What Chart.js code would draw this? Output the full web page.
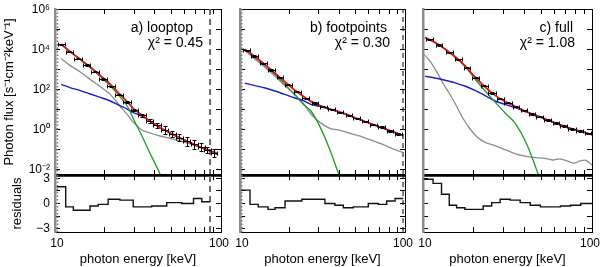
<!DOCTYPE html>
<html>
<head>
<meta charset="utf-8">
<title>Photon spectra</title>
<script src="https://cdn.jsdelivr.net/npm/chart.js@4.4.1/dist/chart.umd.min.js"></script>
<style>
  html, body { margin: 0; padding: 0; background: #fff; }
  #figure { position: relative; width: 600px; height: 267px; overflow: hidden; }
  #figure canvas { position: absolute; }
</style>
</head>
<body>
<div id="figure"></div>
<script>
// ============================================================
//  Data
// ============================================================

// --- axes ---
const energyTicks = [10, 20, 30, 40, 50, 60, 70, 80, 90, 100];
const energyTickLabels = ['10', '', '', '', '', '', '', '', '', '100'];
const fluxTicks = [1e-2, 1e-1, 1, 1e1, 1e2, 1e3, 1e4, 1e5, 1e6];
const fluxTickLabels = ['10⁻²', '', '10⁰', '', '10²', '', '10⁴', '', '10⁶'];
const residTicks = [-3, -1.5, 0, 1.5, 3];
const residTickLabels = ['−3', '', '0', '', '3'];

// --- a) looptop ---
const loopModelE = [10.9, 12.3, 14.2, 16.3, 18.7, 21.5, 24.6, 27.2, 29.9, 33.4, 37.3, 42.9, 49.3, 56.6, 65.0, 74.7, 85.8, 95.9];
const loopTotal = [1.95e4, 8.51e3, 3.39e3, 1.41e3, 537, 195, 60.3, 26.3, 11.0, 5.50, 2.82, 1.33, 0.708, 0.398, 0.237, 0.141, 0.0891, 0.0596];
const loopThermal = [1.91e4, 8.22e3, 3.31e3, 1.32e3, 479, 162, 46.8, 15.8, 3.16, 0.501, 0.0708, 0.00631, 0.000398];
const loopNonthermal = [191, 132, 93.3, 63.1, 42.7, 28.2, 16.6, 11.2, 7.24, 5.01, 2.75, 1.32, 0.708, 0.398, 0.237, 0.141, 0.0891, 0.0596];
const loopBackground = [3.80e3, 1.70e3, 794, 339, 148, 60.3, 15.8, 6.03, 2.24, 1.00, 0.708, 0.501, 0.380, 0.282, 0.200, 0.138, 0.0955, 0.0708];
const loopE = [10.9, 12.2, 13.8, 15.5, 17.4, 19.5, 21.8, 24.3, 27.2, 30.1, 33.4, 37.1, 41.2, 45.7, 50.7, 56.2, 62.4, 68.8, 75.8, 82.9, 90.8];
const loopELo = [10.4, 11.6, 13.1, 14.7, 16.5, 18.5, 20.7, 23.1, 25.8, 28.7, 31.8, 35.3, 39.2, 43.5, 48.3, 53.5, 59.4, 65.6, 72.3, 79.3, 86.9];
const loopEHi = [11.5, 12.9, 14.5, 16.3, 18.3, 20.5, 22.9, 25.6, 28.6, 31.6, 35.1, 39.0, 43.3, 48.0, 53.2, 59.0, 65.5, 72.2, 79.6, 86.8, 95.0];
const loopFlux = [1.91e4, 8.32e3, 3.72e3, 1.78e3, 813, 355, 155, 58.9, 24.0, 10.2, 5.50, 2.95, 1.70, 1.00, 0.646, 0.407, 0.269, 0.191, 0.135, 0.100, 0.0708];
const loopErrDex = [0.03, 0.03, 0.03, 0.03, 0.03, 0.03, 0.03, 0.04, 0.05, 0.06, 0.08, 0.10, 0.12, 0.20, 0.15, 0.17, 0.24, 0.22, 0.20, 0.17, 0.20];
const loopResidEdges = [10.24, 11.6, 12.9, 16.25, 18.2, 20.9, 24.6, 29.6, 38.2, 47.1, 58.0, 68.3, 76.6, 86.1];
const loopResid = [2.0, -0.4, -0.8, -0.3, -0.1, 0.5, 0.4, -0.4, -0.3, 0.1, 0.0, 0.6, 0.2];
const loopRangeLo = 10.35;
const loopRangeHi = 85.9;

// --- b) footpoints ---
const footModelE = [10.7, 12.3, 14.2, 16.3, 18.7, 21.5, 24.1, 26.9, 30.5, 35.1, 40.4, 47.7, 57.2, 70.6, 87.0, 97.3];
const footTotal = [1.08e4, 4.73e3, 1.82e3, 684, 257, 96.6, 50.1, 26.9, 16.6, 11.2, 7.76, 4.73, 2.66, 1.41, 0.750, 0.531];
const footThermal = [1.05e4, 4.37e3, 1.66e3, 589, 191, 56.2, 20.0, 8.91, 1.48, 0.100, 0.00398];
const footNonthermal = [219, 166, 126, 89.1, 60.3, 39.8, 30.2, 19.1, 15.1, 11.0, 7.76, 4.68, 2.63, 1.41, 0.750, 0.531];
const footBackground = [9.33e3, 3.55e3, 1.32e3, 479, 166, 60.3, 22.4, 6.31, 2.40, 1.20, 0.955, 0.646, 0.407, 0.214, 0.105, 0.0741];
const footE = [11.0, 12.2, 13.8, 15.4, 17.5, 19.6, 22.3, 25.1, 28.5, 32.0, 36.0, 40.4, 45.8, 51.0, 57.2, 64.3, 72.2, 81.1, 91.1];
const footELo = [10.5, 11.6, 13.2, 14.7, 16.7, 18.7, 21.2, 23.9, 27.2, 30.5, 34.3, 38.5, 43.6, 48.6, 54.6, 61.3, 68.8, 77.3, 86.8];
const footEHi = [11.5, 12.8, 14.5, 16.2, 18.3, 20.6, 23.3, 26.3, 29.9, 33.5, 37.7, 42.3, 48.0, 53.4, 60.0, 67.4, 75.7, 85.0, 95.5];
const footFlux = [9.77e3, 5.01e3, 2.19e3, 1.00e3, 427, 186, 81.3, 38.9, 22.4, 14.5, 10.7, 7.59, 5.37, 3.80, 2.69, 1.86, 1.35, 0.912, 0.661];
const footErrDex = [0.03, 0.03, 0.03, 0.03, 0.03, 0.03, 0.03, 0.03, 0.03, 0.03, 0.03, 0.03, 0.04, 0.04, 0.04, 0.04, 0.05, 0.05, 0.05];
const footResidEdges = [10.24, 11.5, 12.9, 14.8, 16.3, 18.75, 23.7, 32.7, 37.6, 42.3, 48.6, 59.9, 68.9, 77.5, 87.1, 97.6];
const footResid = [1.6, -0.1, -0.4, -0.7, -0.5, 0.3, 0.5, 0.0, -0.2, -0.5, -0.4, 0.0, -0.1, 0.3, 0.6];
const footRangeLo = 10.24;
const footRangeHi = 97.3;

// --- c) full ---
const fullModelE = [10.3, 11.8, 13.5, 15.5, 17.7, 20.3, 23.3, 26.7, 30.6, 35.0, 41.3, 49.2, 60.4, 74.1, 90.9, 98.7];
const fullTotal = [4.22e4, 2.38e4, 1.13e4, 4.57e3, 1.66e3, 447, 141, 53.7, 26.3, 15.5, 7.94, 4.52, 2.29, 1.22, 0.741, 0.603];
const fullThermal = [4.17e4, 2.34e4, 1.10e4, 4.37e3, 1.51e3, 355, 89.1, 25.1, 7.08, 2.24, 0.178, 0.00355];
const fullNonthermal = [490, 398, 309, 229, 158, 95.5, 52.5, 28.2, 19.1, 13.2, 7.76, 4.52, 2.29, 1.22, 0.741, 0.603];
const fullBackgroundE = [10.1, 10.7, 11.5, 12.3, 13.1, 14.5, 15.9, 17.2, 19.0, 20.9, 23.3, 26.7, 30.6, 35.0, 40.2, 46.0, 52.7, 58.8, 64.7, 71.1, 78.3, 84.9, 92.2, 99.8];
const fullBackground = [6.03e3, 3.80e3, 1.58e3, 603, 224, 56.2, 14.1, 3.98, 1.12, 0.447, 0.240, 0.166, 0.105, 0.0661, 0.0490, 0.0417, 0.0380, 0.0316, 0.0363, 0.0282, 0.0219, 0.0282, 0.0302, 0.0178];
const fullE = [10.9, 12.4, 14.3, 16.1, 18.2, 20.5, 23.0, 25.6, 28.6, 31.8, 35.5, 39.6, 44.2, 49.2, 54.9, 61.2, 68.3, 76.2, 84.9, 94.7];
const fullELo = [10.4, 11.9, 13.6, 15.4, 17.4, 19.5, 21.9, 24.4, 27.3, 30.3, 33.9, 37.8, 42.1, 46.9, 52.3, 58.4, 65.1, 72.6, 80.9, 90.3];
const fullEHi = [11.4, 13.0, 15.0, 16.9, 19.1, 21.5, 24.1, 26.9, 30.0, 33.4, 37.2, 41.5, 46.3, 51.6, 57.5, 64.2, 71.6, 79.9, 89.0, 99.3];
const fullFlux = [3.39e4, 1.78e4, 7.76e3, 3.39e3, 1.29e3, 417, 162, 70.8, 37.2, 22.9, 14.5, 9.55, 6.31, 4.57, 3.16, 2.19, 1.58, 1.12, 0.871, 0.676];
const fullErrDex = [0.03, 0.03, 0.03, 0.03, 0.03, 0.03, 0.03, 0.03, 0.03, 0.03, 0.03, 0.03, 0.03, 0.03, 0.04, 0.04, 0.04, 0.04, 0.04, 0.04];
const fullResidEdges = [10.1, 11.47, 12.87, 14.3, 15.8, 17.7, 22.7, 25.5, 28.6, 32.8, 37.6, 43.1, 49.5, 65.1, 74.7, 85.8, 100];
const fullResid = [2.9, 2.4, 1.1, -0.2, -0.5, -0.7, -0.3, 0.1, 0.5, 0.4, 0.1, -0.2, -0.4, -0.3, -0.2, 0.0];

// ============================================================
//  Styling / layout
// ============================================================

Chart.defaults.font.family = '"Liberation Sans", Arial, Helvetica, sans-serif';
Chart.defaults.font.size = 13;
Chart.defaults.color = '#000';

const TICK_FONT = { size: 12 };
const ENERGY_MIN = 10;
const ENERGY_MAX = 100;
const FLUX_MIN = 5.62e-3;
const FLUX_MAX = 1.122e6;
const RESID_MIN = -3.4;
const RESID_MAX = 3.4;

const COLORS = {
    total: '#e8141c',
    thermal: '#1e9a2a',
    nonthermal: '#1c1cc8',
    background: '#8c8c8c',
    data: '#000',
};

// canvases side by side, never overlapping: [left, width, padLeft, padRight]
const panels = [
    {
        label: 'a) looptop', chi: 'χ² = 0.45', textDx: [28, 18],
        modelE: loopModelE, total: loopTotal, thermal: loopThermal, nonthermal: loopNonthermal,
        backgroundE: loopModelE, background: loopBackground,
        e: loopE, eLo: loopELo, eHi: loopEHi, flux: loopFlux, errDex: loopErrDex,
        residEdges: loopResidEdges, resid: loopResid,
        guides: [
            { e: loopRangeLo, color: '#777', width: 1.5, dash: [1.5, 2] },
            { e: loopRangeHi, color: '#6a6a6a', width: 2, dash: [6, 4] },
        ],
        top: [0, 230, 0, 9],
        res: [0, 232, 0, 11],
        yWidth: 55,
        labels: true,
    },
    {
        label: 'b) footpoints', chi: 'χ² = 0.30', textDx: [18, 15],
        modelE: footModelE, total: footTotal, thermal: footThermal, nonthermal: footNonthermal,
        backgroundE: footModelE, background: footBackground,
        e: footE, eLo: footELo, eHi: footEHi, flux: footFlux, errDex: footErrDex,
        residEdges: footResidEdges, resid: footResid,
        guides: [
            { e: footRangeLo, color: '#777', width: 1.5, dash: [1.5, 2] },
            { e: footRangeHi, color: '#000', width: 1, dash: [5, 4] },
        ],
        top: [230, 183, 10, 8],
        res: [232, 184, 8, 11],
        yWidth: 0,
        labels: false,
    },
    {
        label: 'c) full', chi: 'χ² = 1.08', textDx: [19, 17],
        modelE: fullModelE, total: fullTotal, thermal: fullThermal, nonthermal: fullNonthermal,
        backgroundE: fullBackgroundE, background: fullBackground,
        e: fullE, eLo: fullELo, eHi: fullEHi, flux: fullFlux, errDex: fullErrDex,
        residEdges: fullResidEdges, resid: fullResid,
        guides: [],
        top: [413, 187, 10, 8],
        res: [416, 192, 7, 16],
        yWidth: 0,
        labels: false,
    },
];

// ============================================================
//  Helpers
// ============================================================

function pts(xs, ys) {
    return ys.map((y, i) => ({ x: xs[i], y: y }));
}

function addCanvas(left, top, width, height) {
    const c = document.createElement('canvas');
    c.width = width;
    c.height = height;
    c.style.left = left + 'px';
    c.style.top = top + 'px';
    c.style.width = width + 'px';
    c.style.height = height + 'px';
    document.getElementById('figure').appendChild(c);
    return c;
}

function fixedTicks(values) {
    return scale => { scale.ticks = values.map(v => ({ value: v })); };
}

function fixedSize(w, h) {
    return scale => {
        if (w !== null) scale.width = w;
        if (h !== null) scale.height = h;
        scale.paddingTop = scale.paddingBottom = scale.paddingLeft = scale.paddingRight = 0;
    };
}

// label looked up by tick value, so it does not depend on tick order
function labelFor(values, labels) {
    return v => {
        const i = values.findIndex(t => Math.abs(t - v) <= Math.abs(t) * 1e-6 + 1e-9);
        return i < 0 ? '' : labels[i];
    };
}

// ticks pointing into the plot, no grid lines
const inward = { drawOnChartArea: false, drawTicks: true, tickLength: -5, tickColor: '#000', tickWidth: 1 };

function energyAxis(position, borderWidth, height, withTitle) {
    return {
        type: 'logarithmic', position: position, min: ENERGY_MIN, max: ENERGY_MAX,
        afterBuildTicks: fixedTicks(energyTicks),
        afterFit: fixedSize(null, height),
        grid: inward,
        border: { color: '#000', width: borderWidth },
        ticks: { display: false, autoSkip: false, maxRotation: 0 },
        title: { display: withTitle, text: 'photon energy [keV]', padding: { top: 0, bottom: 0 } },
    };
}

function valueAxis(type, min, max, ticks, labels, position, showLabels, width, border, title, titlePad) {
    return {
        type: type, position: position, min: min, max: max,
        afterBuildTicks: fixedTicks(ticks),
        afterFit: fixedSize(width, null),
        grid: inward,
        border: border,
        ticks: {
            display: showLabels, autoSkip: false, padding: 10,
            font: TICK_FONT,
            callback: labelFor(ticks, labels),
        },
        title: { display: !!title, text: title || '', padding: { top: titlePad, bottom: 0 } },
    };
}

function guideSets(guides, lo, hi) {
    return guides.map(g => ({
        data: [{ x: g.e, y: lo }, { x: g.e, y: hi }],
        borderColor: g.color, borderWidth: g.width, borderDash: g.dash,
        pointRadius: 0, order: 5,
    }));
}

const snap = v => Math.round(v) + 0.5;

// error bars: horizontal = energy bin, vertical = flux error
const errorBarPlugin = {
    id: 'errorBars',
    afterDatasetsDraw(chart) {
        const { ctx, chartArea: a, scales: { x, y } } = chart;
        chart.data.datasets.forEach(ds => {
            if (!ds.binLo) return;
            ctx.save();
            ctx.beginPath();
            ctx.rect(a.left, a.top, a.right - a.left, a.bottom - a.top);
            ctx.clip();
            ctx.strokeStyle = ds.borderColor;
            ctx.lineWidth = 1;
            ctx.beginPath();
            ds.data.forEach((p, i) => {
                const px = snap(x.getPixelForValue(p.x));
                const py = snap(y.getPixelForValue(p.y));
                const xl = snap(x.getPixelForValue(ds.binLo[i]));
                const xr = snap(x.getPixelForValue(ds.binHi[i]));
                const f = Math.pow(10, ds.errDex[i]);
                const yt = snap(y.getPixelForValue(p.y * f));
                const yb = snap(y.getPixelForValue(p.y / f));
                ctx.moveTo(xl, py); ctx.lineTo(xr, py);
                ctx.moveTo(xl, py - 2); ctx.lineTo(xl, py + 2);
                ctx.moveTo(xr, py - 2); ctx.lineTo(xr, py + 2);
                ctx.moveTo(px, yt); ctx.lineTo(px, yb);
                ctx.moveTo(px - 2, yt); ctx.lineTo(px + 2, yt);
                ctx.moveTo(px - 2, yb); ctx.lineTo(px + 2, yb);
            });
            ctx.stroke();
            ctx.restore();
        });
    }
};

// panel name and chi-square in the upper right corner
const panelTextPlugin = {
    id: 'panelText',
    afterDraw(chart, args, opts) {
        if (!opts.lines) return;
        const { ctx, chartArea } = chart;
        ctx.save();
        ctx.font = '14px "Liberation Sans", Arial, sans-serif';
        ctx.fillStyle = '#000';
        ctx.textAlign = 'right';
        ctx.textBaseline = 'middle';
        opts.lines.forEach(l => ctx.fillText(l.text, chartArea.right - l.dx, chartArea.top + l.dy));
        ctx.restore();
    }
};

// "10" / "100" under the residual panels, placed with the x scale
const energyLabelPlugin = {
    id: 'energyLabels',
    afterDraw(chart, args, opts) {
        if (!opts.show) return;
        const { ctx, chartArea, scales: { x } } = chart;
        const last = energyTicks.length - 1;
        ctx.save();
        ctx.font = '12px "Liberation Sans", Arial, sans-serif';
        ctx.fillStyle = '#000';
        ctx.textAlign = 'center';
        ctx.textBaseline = 'middle';
        energyTicks.forEach((v, i) => {
            const text = energyTickLabels[i];
            if (!text) return;
            const nudge = i === 0 ? 2 : (i === last ? -2 : 0);
            ctx.fillText(text, x.getPixelForValue(v) + nudge, chartArea.bottom + 11.5);
        });
        ctx.restore();
    }
};

const leftBorder = { color: '#8c8c8c', width: 2.5 };
const thinBorder = { color: '#000', width: 1 };

// ============================================================
//  Charts
// ============================================================

function drawSpectrum(p) {
    const [left, width, padL, padR] = p.top;
    const canvas = addCanvas(left, 0, width, 178);
    const line = (xs, ys, color, lw, order) => ({
        data: pts(xs, ys), borderColor: color, borderWidth: lw,
        pointRadius: 0, tension: 0.3, order: order,
    });
    const datasets = [
        {
            data: pts(p.e, p.flux), showLine: false, pointRadius: 0,
            borderColor: COLORS.data, binLo: p.eLo, binHi: p.eHi, errDex: p.errDex, order: 0,
        },
        line(p.modelE, p.total, COLORS.total, 1.8, 1),
        line(p.modelE, p.thermal, COLORS.thermal, 1.3, 2),
        line(p.modelE, p.nonthermal, COLORS.nonthermal, 1.4, 3),
        line(p.backgroundE, p.background, COLORS.background, 1.3, 4),
    ].concat(guideSets(p.guides, FLUX_MIN, FLUX_MAX));

    new Chart(canvas, {
        type: 'line',
        data: { datasets },
        options: {
            responsive: false, animation: false, events: [],
            layout: { padding: { left: padL, right: padR, top: 9, bottom: 3 } },
            plugins: {
                legend: { display: false }, tooltip: { enabled: false },
                panelText: { lines: [
                    { text: p.label, dx: p.textDx[0], dy: 19 },
                    { text: p.chi, dx: p.textDx[1], dy: 34 },
                ] },
            },
            scales: {
                x: energyAxis('bottom', 2.5, 0, false),
                xTop: energyAxis('top', 1, 0, false),
                y: valueAxis('logarithmic', FLUX_MIN, FLUX_MAX, fluxTicks, fluxTickLabels, 'left',
                    p.labels, p.yWidth, leftBorder, p.labels ? 'Photon flux [s⁻¹cm⁻²keV⁻¹]' : '', 2),
                yRight: valueAxis('logarithmic', FLUX_MIN, FLUX_MAX, fluxTicks, fluxTickLabels, 'right',
                    false, 0, thinBorder, '', 0),
            }
        },
        plugins: [errorBarPlugin, panelTextPlugin]
    });
}

function drawResiduals(p) {
    const [left, width, padL, padR] = p.res;
    const canvas = addCanvas(left, 170, width, 97);
    const steps = pts(p.residEdges, p.resid.concat([p.resid[p.resid.length - 1]]));
    const datasets = [
        { data: steps, stepped: 'before', borderColor: '#111', borderWidth: 1.4, pointRadius: 0, order: 0 },
    ].concat(guideSets(p.guides, RESID_MIN, RESID_MAX));

    new Chart(canvas, {
        type: 'line',
        data: { datasets },
        options: {
            responsive: false, animation: false, events: [],
            layout: { padding: { left: padL, right: padR, top: 5, bottom: 0 } },
            plugins: {
                legend: { display: false }, tooltip: { enabled: false },
                energyLabels: { show: true },
            },
            scales: {
                x: energyAxis('bottom', 1, 35, true),
                xTop: energyAxis('top', 2.5, 0, false),
                y: valueAxis('linear', RESID_MIN, RESID_MAX, residTicks, residTickLabels, 'left',
                    p.labels, p.yWidth, leftBorder, p.labels ? 'residuals' : '', 10),
                yRight: valueAxis('linear', RESID_MIN, RESID_MAX, residTicks, residTickLabels, 'right',
                    false, 0, thinBorder, '', 0),
            }
        },
        plugins: [energyLabelPlugin]
    });
}

panels.forEach(p => {
    drawSpectrum(p);
    drawResiduals(p);
});
</script>
</body>
</html>
